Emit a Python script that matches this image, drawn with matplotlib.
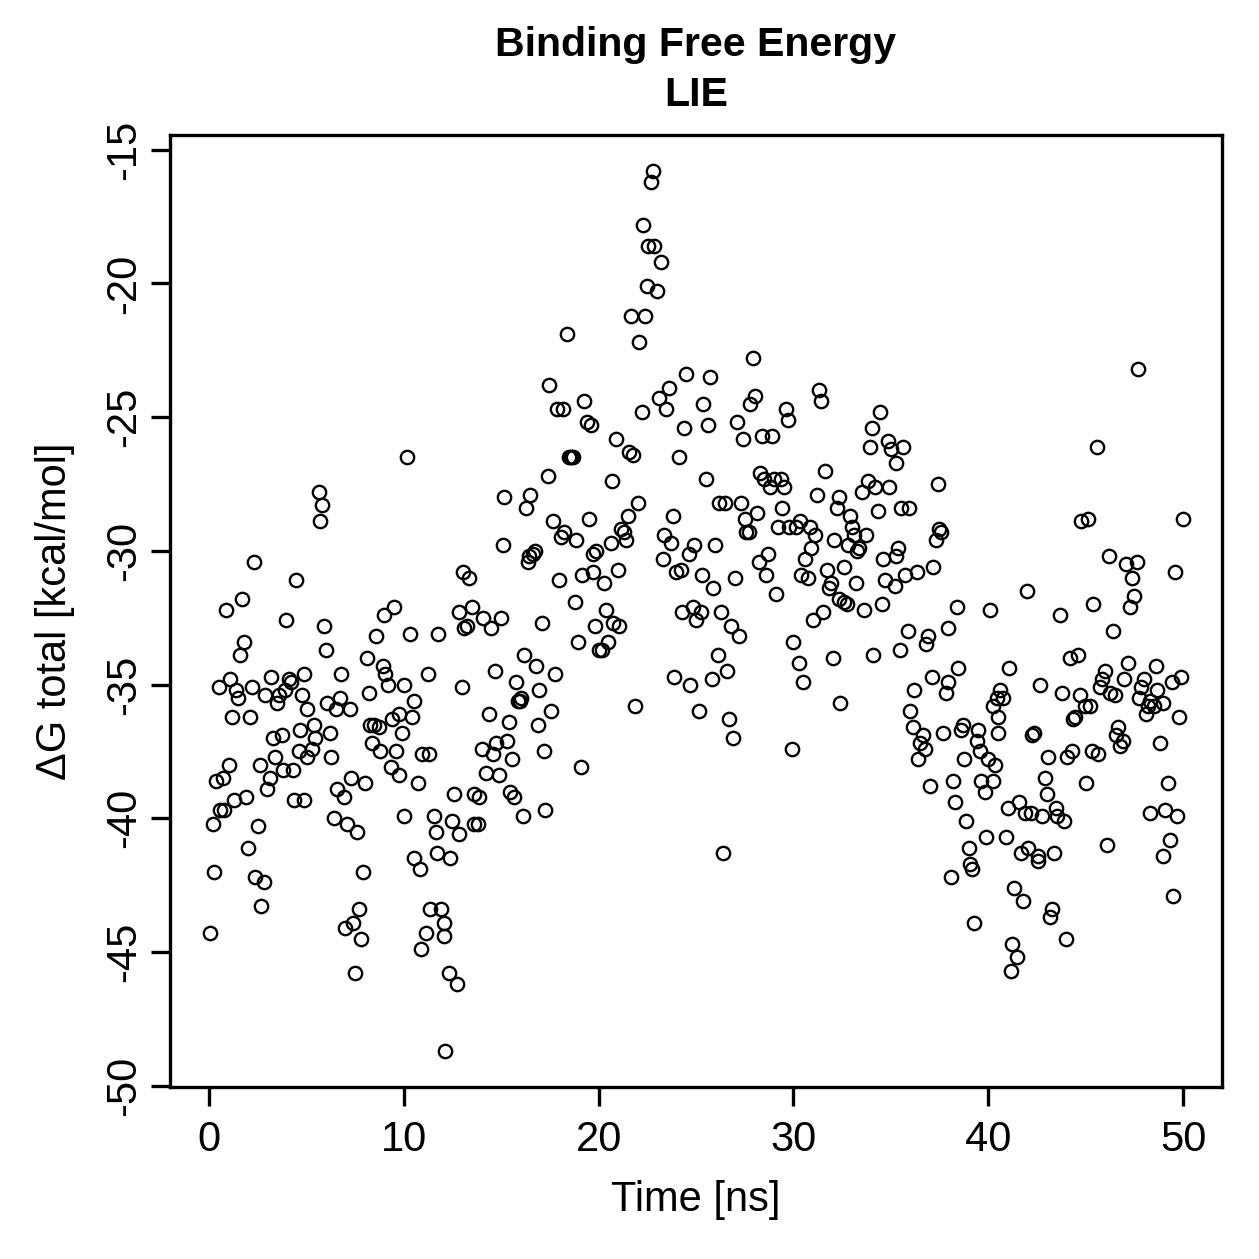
import numpy as np
import matplotlib
matplotlib.use("Agg")
import matplotlib.pyplot as plt

# time [ns] and binding free energy [kcal/mol], in 10 ns blocks
time_00_10 = [0.05, 0.20, 0.26, 0.36, 0.51, 0.56, 0.72, 0.77, 0.87, 1.02, 1.08, 1.18, 1.28, 1.38, 1.49,
              1.59, 1.69, 1.79, 1.90, 2.00, 2.10, 2.20, 2.31, 2.36, 2.51, 2.61, 2.66, 2.82, 2.87, 2.97,
              3.13, 3.18, 3.28, 3.38, 3.48, 3.59, 3.74, 3.79, 3.89, 3.94, 4.10, 4.20, 4.30, 4.35, 4.46,
              4.61, 4.66, 4.76, 4.87, 4.87,
              5.02, 5.02, 5.28, 5.38, 5.43, 5.64, 5.69, 5.79, 5.89, 5.99, 6.05, 6.20, 6.25, 6.40, 6.51,
              6.56, 6.71, 6.76, 6.92, 6.97, 7.07, 7.22, 7.27, 7.38, 7.48, 7.58, 7.68, 7.79, 7.89, 7.99,
              8.09, 8.20, 8.25, 8.35, 8.45, 8.56, 8.71, 8.76, 8.91, 8.97, 9.02, 9.17, 9.32, 9.38, 9.48,
              9.58, 9.73, 9.78, 9.89, 9.99, 9.99, 10.14]
dg_00_10 = [-44.3, -40.2, -42.0, -38.6, -35.1, -39.7, -38.5, -39.7, -32.2, -38.0, -34.8, -36.2, -39.3, -35.2, -35.5,
            -33.9, -31.8, -33.4, -39.2, -41.1, -36.2, -35.1, -30.4, -42.2, -40.3, -38.0, -43.3, -42.4, -35.4, -38.9,
            -38.5, -34.7, -37.0, -37.7, -35.7, -35.4, -36.9, -38.2, -35.2, -32.6, -34.8, -34.9, -38.2, -39.3, -31.1,
            -37.5, -36.7, -35.4, -39.3, -34.6,
            -35.9, -37.7, -37.4, -36.5, -37.0, -27.8, -28.9, -28.3, -32.8, -33.7, -35.7, -36.8, -37.7, -40.0, -35.9,
            -38.9, -35.5, -34.6, -39.2, -44.1, -40.2, -35.9, -38.5, -43.9, -45.8, -40.5, -43.4, -44.5, -42.0, -38.7,
            -34.0, -35.3, -36.5, -37.2, -36.5, -33.2, -36.6, -37.5, -34.3, -32.4, -34.6, -35.0, -38.1, -36.3, -32.1,
            -37.5, -36.1, -38.4, -36.8, -39.9, -35.0, -26.5]

time_10_20 = [10.30, 10.40, 10.50, 10.55, 10.71, 10.81, 10.86, 10.91, 11.12, 11.22, 11.32, 11.37, 11.53, 11.63,
              11.68, 11.78, 11.89, 12.04, 12.09, 12.14, 12.30, 12.35, 12.50, 12.60, 12.71, 12.81, 12.86, 13.01,
              13.06, 13.11, 13.22, 13.37, 13.52, 13.58, 13.63, 13.83, 13.88, 13.99, 14.09, 14.24, 14.40, 14.50,
              14.60, 14.70, 14.75, 14.91,
              15.01, 15.11, 15.16, 15.32, 15.42, 15.47, 15.57, 15.68, 15.78, 15.88, 15.98, 16.03, 16.14, 16.19,
              16.29, 16.39, 16.44, 16.50, 16.65, 16.75, 16.80, 16.91, 16.96, 17.11, 17.21, 17.26, 17.42, 17.47,
              17.57, 17.67, 17.78, 17.88, 17.98, 18.08, 18.19, 18.24, 18.39, 18.49, 18.60, 18.70, 18.80, 18.85,
              18.96, 19.11, 19.16, 19.26, 19.42, 19.52, 19.62, 19.72, 19.72, 19.83, 19.88]
dg_10_20 = [-33.1, -36.2, -35.6, -41.5, -38.7, -41.9, -44.9, -37.6, -44.3, -34.6, -37.6, -43.4, -39.9, -40.5,
            -41.3, -33.1, -43.4, -43.9, -44.4, -48.7, -45.8, -41.5, -40.1, -39.1, -46.2, -40.6, -32.3, -35.1,
            -30.8, -32.9, -32.8, -31.0, -32.1, -40.2, -39.1, -40.2, -39.2, -37.4, -32.5, -38.3, -36.1, -32.9,
            -37.6, -34.5, -37.2, -38.4,
            -32.5, -29.8, -28.0, -37.1, -36.4, -39.0, -37.8, -39.2, -34.9, -35.6, -35.6, -35.5, -39.9, -33.9,
            -28.4, -30.4, -30.2, -27.9, -30.1, -30.0, -34.3, -36.5, -35.2, -32.7, -37.5, -39.7, -27.2, -23.8,
            -36.0, -28.9, -34.6, -24.7, -31.1, -29.5, -24.7, -29.3, -21.9, -26.5, -26.5, -26.5, -31.9, -29.6,
            -33.4, -38.1, -30.9, -24.4, -25.2, -28.8, -25.3, -30.1, -30.8, -32.8, -30.0]

time_20_30 = [20.03, 20.18, 20.29, 20.39, 20.49, 20.65, 20.70, 20.75, 20.90, 21.00, 21.06, 21.16, 21.31, 21.41,
              21.52, 21.57, 21.67, 21.77, 21.88, 22.03, 22.08, 22.23, 22.29, 22.39, 22.49, 22.54, 22.70, 22.80,
              22.85, 23.00, 23.10, 23.21, 23.31, 23.36, 23.46, 23.62, 23.72, 23.82, 23.87, 23.98, 24.13, 24.23,
              24.28, 24.39, 24.49, 24.64, 24.69, 24.85, 24.90,
              25.00, 25.15, 25.26, 25.31, 25.36, 25.51, 25.62, 25.72, 25.82, 25.87, 25.97, 26.13, 26.18, 26.28,
              26.38, 26.49, 26.59, 26.69, 26.79, 26.90, 27.00, 27.10, 27.20, 27.31, 27.41, 27.51, 27.56, 27.72,
              27.77, 27.92, 28.02, 28.13, 28.23, 28.28, 28.38, 28.48, 28.59, 28.69, 28.79, 28.89, 29.00, 29.10,
              29.20, 29.35, 29.41, 29.51, 29.61, 29.71, 29.76, 29.92, 29.97]
dg_20_30 = [-33.7, -33.7, -31.2, -32.2, -33.4, -29.7, -27.4, -32.7, -25.8, -30.7, -32.8, -29.2, -29.3, -29.6,
            -28.7, -26.3, -21.2, -26.4, -35.8, -28.2, -22.2, -24.8, -17.8, -21.2, -20.1, -18.6, -16.2, -15.8,
            -18.6, -20.3, -24.3, -19.2, -30.3, -29.4, -24.7, -23.9, -29.7, -28.7, -34.7, -30.8, -26.5, -30.7,
            -32.3, -25.4, -23.4, -30.1, -35.0, -32.1, -29.8,
            -32.6, -36.0, -32.3, -30.9, -24.5, -27.3, -25.3, -23.5, -34.8, -31.4, -29.8, -33.9, -28.2, -32.3,
            -41.3, -28.2, -34.5, -36.3, -32.8, -37.0, -31.0, -25.2, -33.2, -28.2, -25.8, -28.8, -29.3, -29.3,
            -24.5, -22.8, -24.2, -28.6, -30.4, -27.1, -25.7, -27.3, -30.9, -30.1, -27.6, -25.7, -27.3, -31.6,
            -29.1, -27.3, -28.4, -27.6, -24.7, -25.1, -29.1, -37.4, -33.4]

time_30_40 = [30.12, 30.28, 30.33, 30.38, 30.48, 30.58, 30.74, 30.84, 30.89, 30.99, 31.10, 31.20, 31.30, 31.40,
              31.51, 31.61, 31.71, 31.81, 31.92, 32.02, 32.07, 32.22, 32.33, 32.33, 32.38, 32.58, 32.58, 32.74,
              32.79, 32.89, 32.99, 33.09, 33.20, 33.25, 33.35, 33.50, 33.61, 33.71, 33.81, 33.91, 34.02, 34.07,
              34.17, 34.32, 34.43, 34.53, 34.58, 34.68, 34.84, 34.89, 34.99,
              35.20, 35.25, 35.25, 35.35, 35.45, 35.50, 35.61, 35.71, 35.86, 35.91, 36.01, 36.12, 36.17, 36.32,
              36.42, 36.48, 36.63, 36.73, 36.83, 36.89, 36.99, 37.09, 37.19, 37.30, 37.40, 37.45, 37.60, 37.70,
              37.81, 37.91, 37.96, 38.11, 38.17, 38.27, 38.42, 38.47, 38.58, 38.73, 38.78, 38.88, 38.99, 39.09,
              39.19, 39.29, 39.40, 39.50, 39.60, 39.65, 39.81, 39.91, 40.01]
dg_30_40 = [-29.1, -34.2, -28.9, -30.9, -34.9, -30.3, -31.0, -29.1, -29.9, -32.6, -29.4, -27.9, -24.0, -24.4,
            -32.3, -27.0, -30.7, -31.4, -31.2, -34.0, -29.6, -28.4, -28.0, -31.8, -35.7, -30.6, -31.9, -32.0,
            -29.8, -28.7, -29.1, -29.4, -31.2, -30.0, -29.9, -27.8, -32.2, -29.4, -27.4, -26.1, -25.4, -33.9,
            -27.6, -28.5, -24.8, -32.0, -30.3, -31.1, -25.9, -27.6, -26.2,
            -31.3, -26.7, -30.2, -29.9, -33.7, -28.4, -26.1, -30.9, -33.0, -28.4, -36.0, -36.6, -35.2, -30.8,
            -37.8, -37.2, -36.9, -37.4, -33.5, -33.2, -38.8, -34.7, -30.6, -29.6, -27.5, -29.2, -29.3, -36.8,
            -35.3, -32.9, -34.9, -42.2, -38.6, -39.4, -32.1, -34.4, -36.7, -36.5, -37.8, -40.1, -41.1, -41.7,
            -41.9, -43.9, -37.1, -36.7, -37.5, -38.6, -39.0, -40.7, -37.8]

time_40_50 = [40.11, 40.22, 40.27, 40.37, 40.47, 40.52, 40.52, 40.63, 40.78, 40.93, 41.04, 41.09, 41.19, 41.24,
              41.34, 41.50, 41.60, 41.70, 41.80, 41.91, 42.01, 42.06, 42.21, 42.26, 42.37, 42.57, 42.57, 42.67,
              42.78, 42.93, 43.03, 43.08, 43.19, 43.29, 43.39, 43.49, 43.55, 43.70, 43.80, 43.90, 44.01, 44.06,
              44.21, 44.31, 44.36, 44.47, 44.62, 44.72, 44.77, 44.98,
              45.03, 45.13, 45.24, 45.34, 45.39, 45.59, 45.65, 45.75, 45.85, 46.00, 46.11, 46.21, 46.26, 46.41,
              46.52, 46.57, 46.67, 46.77, 46.93, 46.98, 47.08, 47.18, 47.29, 47.39, 47.49, 47.64, 47.70, 47.75,
              47.85, 48.00, 48.11, 48.21, 48.31, 48.31, 48.51, 48.62, 48.67, 48.82, 48.98, 48.98, 49.08, 49.23,
              49.34, 49.44, 49.49, 49.59, 49.69, 49.80, 49.90, 50.00]
dg_40_50 = [-32.2, -38.6, -35.8, -38.0, -35.5, -36.2, -36.8, -35.2, -35.5, -40.7, -39.6, -34.4, -45.7, -44.7,
            -42.6, -45.2, -39.4, -41.3, -43.1, -39.8, -31.5, -41.1, -39.8, -36.9, -36.8, -41.4, -41.6, -35.0,
            -39.9, -38.5, -39.1, -37.7, -43.7, -43.4, -41.3, -39.6, -39.9, -32.4, -35.3, -40.1, -44.5, -37.7,
            -34.0, -37.5, -36.3, -36.2, -33.9, -35.4, -28.9, -35.8,
            -38.7, -28.8, -35.8, -37.5, -32.0, -26.1, -37.6, -35.1, -34.8, -34.5, -41.0, -30.2, -35.3, -33.0,
            -35.4, -36.9, -36.6, -37.3, -37.1, -34.8, -30.5, -34.2, -32.1, -31.0, -31.7, -30.4, -23.2, -35.5,
            -35.1, -34.8, -36.1, -35.8, -35.6, -39.8, -35.8, -34.3, -35.2, -37.2, -35.7, -41.4, -39.7, -38.7,
            -40.8, -34.9, -42.9, -30.8, -39.9, -36.2, -34.7, -28.8]

x_ticks = [0, 10, 20, 30, 40, 50]
y_ticks = [-50, -45, -40, -35, -30, -25, -20, -15]

time = np.concatenate([time_00_10, time_10_20, time_20_30, time_30_40, time_40_50])
dg = np.concatenate([dg_00_10, dg_10_20, dg_20_30, dg_30_40, dg_40_50])

plt.rcParams.update({
    "font.family": ["Liberation Sans", "DejaVu Sans"],
    "axes.unicode_minus": False,
})
fs_title = 14.8
fs = 15
fs_tick = 15

fig = plt.figure(figsize=(6.295, 6.295), dpi=200)
ax = fig.add_axes([170 / 1259, 1 - 1087 / 1259, 1052 / 1259, 952 / 1259])

ax.plot(time, dg, "o", ms=4.8, mfc="none", mec="black", mew=0.85)

ax.set_xlim(-2.0, 52.0)
ax.set_ylim(-50.05, -14.45)
ax.set_xticks(x_ticks)
ax.set_yticks(y_ticks)
ax.set_xticklabels([str(v) for v in x_ticks], fontsize=fs_tick)
ax.set_yticklabels([str(v) for v in y_ticks], fontsize=fs_tick, rotation=90, va="center")
ax.tick_params(direction="out", length=6.8, width=1.2, color="black")
ax.tick_params(axis="x", pad=5)
ax.tick_params(axis="y", pad=2.5)
for sp in ax.spines.values():
    sp.set_linewidth(1.2)

fig.text(0.5526, 1 - 45 / 1259, "Binding Free Energy", ha="center", va="center",
         fontsize=fs_title, fontweight="bold")
fig.text(0.5526, 1 - 95 / 1259, "LIE", ha="center", va="center",
         fontsize=fs_title, fontweight="bold")
fig.text(0.5526, 1 - 1200 / 1259, "Time [ns]", ha="center", va="center", fontsize=fs)
fig.text(55 / 1259, 1 - 611 / 1259, "ΔG total [kcal/mol]", ha="center", va="center",
         rotation=90, fontsize=fs)

fig.savefig("out.png", dpi=200)
